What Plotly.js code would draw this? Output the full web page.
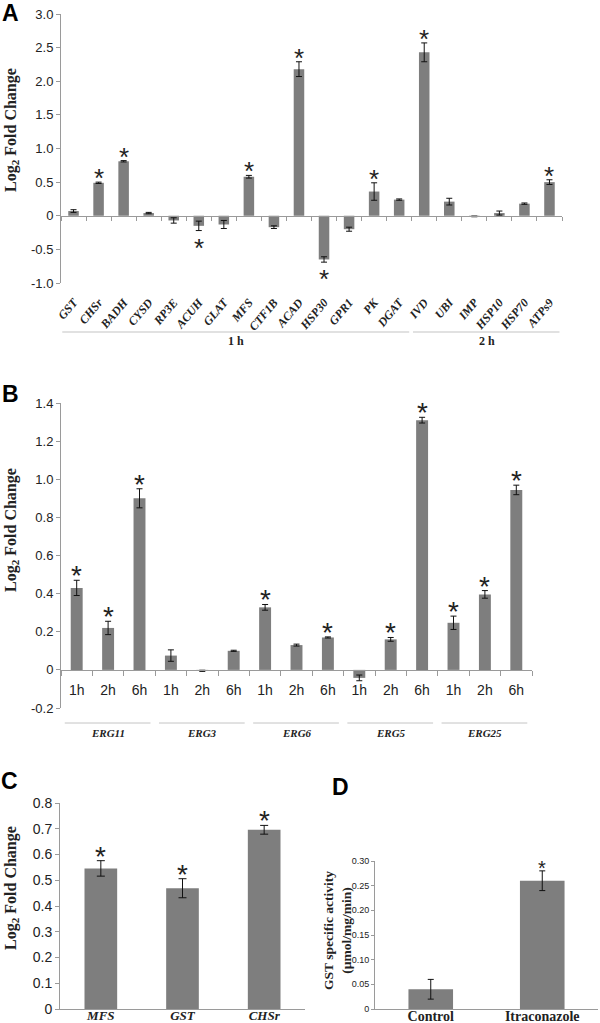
<!DOCTYPE html>
<html>
<head>
<meta charset="utf-8">
<script src="https://cdn.plot.ly/plotly-3.0.1.min.js"></script>
<style>html,body{margin:0;padding:0;background:#fff;}#chart{width:600px;height:1023px;}</style>
</head>
<body>
<div id="chart"></div>
<script>
// ---------- DATA ----------
// Panel A
const genesA = ["GST","CHSr","BADH","CYSD","RP3E","ACUH","GLAT","MFS","CTF1B","ACAD","HSP30","GPR1","PK","DGAT","IVD","UBI","IMP","HSP10","HSP70","ATPs9"];
const valuesA = [0.07,0.49,0.81,0.04,-0.07,-0.15,-0.13,0.58,-0.17,2.18,-0.65,-0.20,0.36,0.24,2.43,0.21,-0.01,0.04,0.18,0.50];
const errorsA = [0.02,0.01,0.01,0.01,0.04,0.07,0.06,0.02,0.02,0.11,0.04,0.03,0.13,0.01,0.14,0.05,0.005,0.03,0.01,0.035];
const sigA = [0,1,1,0,0,1,0,1,0,1,1,0,1,0,1,0,0,0,0,1];
const groupNamesA = ["1 h","2 h"];
const groupSizesA = [14,6];
const yTickValsA = [-1,-0.5,0,0.5,1,1.5,2,2.5,3];
const yTickTextA = ["-1.0","-0.5","0","0.5","1.0","1.5","2.0","2.5","3.0"];

// Panel B
const genesB = ["ERG11","ERG3","ERG6","ERG5","ERG25"];
const timesB = ["1h","2h","6h"];
const valuesB = [0.43,0.22,0.90, 0.075,-0.005,0.10, 0.328,0.13,0.17, -0.042,0.16,1.31, 0.247,0.396,0.944];
const errorsB = [0.04,0.035,0.05, 0.03,0.003,0.003, 0.015,0.005,0.003, 0.015,0.01,0.015, 0.035,0.02,0.025];
const sigB = [1,1,1, 0,0,0, 1,0,1, 0,1,1, 1,1,1];
const yTickValsB = [-0.2,0,0.2,0.4,0.6,0.8,1.0,1.2,1.4];
const yTickTextB = ["-0.2","0","0.2","0.4","0.6","0.8","1.0","1.2","1.4"];

// Panel C
const genesC = ["MFS","GST","CHSr"];
const valuesC = [0.546,0.469,0.696];
const errorsC = [0.03,0.037,0.017];
const sigC = [1,1,1];
const yTickValsC = [0,0.1,0.2,0.3,0.4,0.5,0.6,0.7,0.8];
const yTickTextC = ["0","0.1","0.2","0.3","0.4","0.5","0.6","0.7","0.8"];

// Panel D
const groupsD = ["Control","Itraconazole"];
const valuesD = [0.04,0.26];
const errorsD = [0.02,0.02];
const sigD = [0,1];
const yTickValsD = [0,0.05,0.10,0.15,0.20,0.25,0.30];
const yTickTextD = ["0","0.05","0.10","0.15","0.20","0.25","0.30"];

// ---------- LAYOUT HELPERS ----------
const W = 600, H = 1023;
const fx = v => v / W;
const fy = v => 1 - v / H;

const SANS = "Liberation Sans, Arial, sans-serif";
const SERIF = "Liberation Serif, Times New Roman, serif";
const BAR = "#7e7e7e";
const AXC = "#9a9a9a";
const TXT = "#222";

const catsB = [];
genesB.forEach(g => timesB.forEach(t => catsB.push(g + " " + t)));
const tickTextB = [];
genesB.forEach(() => timesB.forEach(t => tickTextB.push(t)));

function barTrace(cats, vals, errs, xa, ya, w, capw) {
  return {type: "bar", x: cats, y: vals, width: w, marker: {color: BAR, line: {width: 0}},
    error_y: {type: "data", array: errs, visible: true, color: "#111", thickness: 1, width: capw},
    xaxis: xa, yaxis: ya, hoverinfo: "skip"};
}
// significance stars as annotations anchored to the error-bar ends
function stars(cats, vals, errs, sig, xa, ya, size, shiftUp, shiftDown) {
  const out = [];
  cats.forEach((c, i) => {
    if (!sig[i]) return;
    const up = vals[i] >= 0;
    out.push({text: "*", xref: xa, yref: ya, x: c, y: up ? vals[i] + errs[i] : vals[i] - errs[i],
      xanchor: "center", yanchor: up ? "bottom" : "top", yshift: up ? shiftUp : shiftDown,
      showarrow: false, font: {family: SANS, size: size, color: TXT}});
  });
  return out;
}

const traces = [
  barTrace(genesA, valuesA, errorsA, "x", "y", 0.42, 3),
  barTrace(catsB, valuesB, errorsB, "x2", "y2", 0.38, 3),
  barTrace(genesC, valuesC, errorsC, "x3", "y3", 0.4, 4),
  barTrace(groupsD, valuesD, errorsD, "x4", "y4", 0.4, 3)
];

// domains (pixels -> paper)
const domA = {x: [fx(61), fx(562)], y: [fy(283), fy(14)]}, rangeA = [-1, 3];
const domB = {x: [fx(61), fx(532)], y: [fy(708), fy(403)]}, rangeB = [-0.2, 1.4];
const domC = {x: [fx(60), fx(305)], y: [fy(1009), fy(803)]}, rangeC = [0, 0.8];
const domD = {x: [fx(375), fx(598)], y: [fy(1009), fy(861)]}, rangeD = [0, 0.30];
const zeroPos = (dom, r) => dom.y[0] + (0 - r[0]) / (r[1] - r[0]) * (dom.y[1] - dom.y[0]);

function yAxis(dom, range, tv, tt, xa, fs) {
  return {domain: dom.y, range: range, anchor: xa, tickmode: "array", tickvals: tv, ticktext: tt,
    showline: true, linecolor: AXC, linewidth: 1, ticks: "outside", ticklen: 4, tickcolor: AXC,
    showgrid: false, zeroline: false, tickfont: {family: SANS, size: fs, color: TXT}, fixedrange: true};
}

const layout = {
  width: W, height: H, margin: {l: 0, r: 0, t: 0, b: 0},
  paper_bgcolor: "#fff", plot_bgcolor: "rgba(0,0,0,0)", showlegend: false,
  xaxis: {domain: domA.x, type: "category", categoryorder: "array", categoryarray: genesA,
    range: [-0.5, genesA.length - 0.5], anchor: "free", position: zeroPos(domA, rangeA),
    showline: true, linecolor: AXC, linewidth: 1, ticks: "outside", tickson: "boundaries", ticklen: 4, tickcolor: AXC,
    showgrid: false, tickangle: -50, ticklabelstandoff: 74,
    tickfont: {family: SERIF, size: 12, color: TXT, weight: "bold", style: "italic"}, fixedrange: true},
  yaxis: yAxis(domA, rangeA, yTickValsA, yTickTextA, "x", 13),
  xaxis2: {domain: domB.x, type: "category", categoryorder: "array", categoryarray: catsB,
    range: [-0.5, catsB.length - 0.5], anchor: "free", position: zeroPos(domB, rangeB),
    tickmode: "array", tickvals: catsB, ticktext: tickTextB,
    showline: true, linecolor: AXC, linewidth: 1, ticks: "outside", tickson: "boundaries", ticklen: 5, tickcolor: AXC,
    showgrid: false, ticklabelstandoff: 7, tickfont: {family: SANS, size: 14, color: TXT}, fixedrange: true},
  yaxis2: yAxis(domB, rangeB, yTickValsB, yTickTextB, "x2", 13),
  xaxis3: {domain: domC.x, type: "category", anchor: "y3", range: [-0.5, genesC.length - 0.5],
    showline: true, linecolor: AXC, linewidth: 1, ticks: "", showgrid: false, ticklabelstandoff: -6,
    tickfont: {family: SERIF, size: 13, color: TXT, weight: "bold", style: "italic"}, fixedrange: true},
  yaxis3: yAxis(domC, rangeC, yTickValsC, yTickTextC, "x3", 14),
  xaxis4: {domain: domD.x, type: "category", anchor: "y4", range: [-0.5, groupsD.length - 0.5],
    showline: true, linecolor: AXC, linewidth: 1, ticks: "", showgrid: false, ticklabelstandoff: -6,
    tickfont: {family: SERIF, size: 14, color: TXT, weight: "bold"}, fixedrange: true},
  yaxis4: Object.assign(yAxis(domD, rangeD, yTickValsD, yTickTextD, "x4", 9), {ticklen: 3}),
  shapes: [], annotations: []
};

// stars
layout.annotations.push(...stars(genesA, valuesA, errorsA, sigA, "x", "y", 26, -13, 0));
layout.annotations.push(...stars(catsB, valuesB, errorsB, sigB, "x2", "y2", 28, -13, 0));
layout.annotations.push(...stars(genesC, valuesC, errorsC, sigC, "x3", "y3", 28, -13, 0));
layout.annotations.push(...stars(groupsD, valuesD, errorsD, sigD, "x4", "y4", 20, -10, 0));

// Panel letters
[["A", 10, 13], ["B", 10, 394], ["C", 9, 781], ["D", 340, 787]].forEach(([t, x, y]) => {
  layout.annotations.push({text: "<b>" + t + "</b>", xref: "paper", yref: "paper", x: fx(x), y: fy(y),
    xanchor: "center", yanchor: "middle", showarrow: false, font: {family: SANS, size: 23, color: "#000"}});
});
// Y titles
[[11, 130], [11, 530], [11, 888]].forEach(([x, y]) => {
  layout.annotations.push({text: "<b>Log<sub>2</sub> Fold Change</b>", xref: "paper", yref: "paper", x: fx(x), y: fy(y),
    xanchor: "center", yanchor: "middle", textangle: -90, showarrow: false, font: {family: SERIF, size: 16, color: TXT}});
});
layout.annotations.push({text: "<b>GST specific activity<br>(µmol/mg/min)</b>", xref: "paper", yref: "paper",
  x: fx(337), y: fy(931), xanchor: "center", yanchor: "middle", textangle: -90, showarrow: false,
  font: {family: SERIF, size: 13.5, color: TXT}});

// Panel A group lines and labels
let startA = 0;
groupSizesA.forEach((n, gi) => {
  const a = startA - 0.5, b = startA + n - 0.5;
  layout.shapes.push({type: "line", xref: "x", yref: "paper", x0: a + 0.05, x1: b - 0.1, y0: fy(332), y1: fy(332),
    line: {color: "#c4c4c4", width: 1.2}});
  layout.annotations.push({text: "<b>" + groupNamesA[gi] + "</b>", xref: "x", yref: "paper", x: (a + b) / 2, y: fy(341),
    xanchor: "center", yanchor: "middle", showarrow: false, font: {family: SERIF, size: 12, color: TXT}});
  startA += n;
});
// Panel B group lines and labels
genesB.forEach((g, gi) => {
  const a = gi * timesB.length - 0.5, b = a + timesB.length;
  layout.shapes.push({type: "line", xref: "x2", yref: "paper", x0: a + 0.12, x1: b - 0.15, y0: fy(723), y1: fy(723),
    line: {color: "#c4c4c4", width: 1}});
  layout.annotations.push({text: "<b><i>" + g + "</i></b>", xref: "x2", yref: "paper", x: (a + b) / 2, y: fy(733),
    xanchor: "center", yanchor: "middle", showarrow: false, font: {family: SERIF, size: 11, color: TXT}});
});

Plotly.newPlot("chart", traces, layout, {staticPlot: true, displayModeBar: false});
</script>
</body>
</html>
